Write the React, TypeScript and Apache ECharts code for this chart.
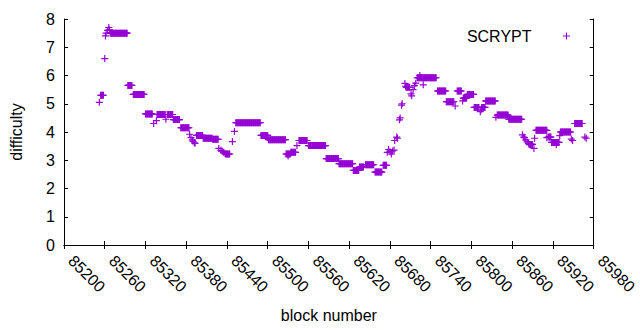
import React, { useEffect, useRef } from "react";
import * as echarts from "echarts";

// Runs of constant difficulty: one point per block from start to end
const runStart = [85254, 85268, 85294, 85302, 85320, 85337, 85352, 85361, 85372, 85395, 85405, 85419, 85438, 85453, 85490, 85501, 85527, 85534, 85546, 85560, 85586, 85605, 85626, 85635, 85644, 85658, 85670, 85704, 85720, 85750, 85763, 85779, 85788, 85794, 85804, 85815, 85821, 85838, 85855, 85885, 85895, 85913, 85918, 85931, 85952];
const runEnd = [85258, 85293, 85300, 85318, 85330, 85349, 85360, 85370, 85384, 85404, 85418, 85427, 85444, 85489, 85500, 85526, 85533, 85541, 85558, 85585, 85604, 85625, 85634, 85641, 85656, 85668, 85675, 85709, 85748, 85762, 85774, 85785, 85793, 85803, 85811, 85820, 85835, 85854, 85874, 85890, 85911, 85917, 85929, 85946, 85963];
const runValue = [5.3, 7.5, 5.65, 5.33, 4.64, 4.62, 4.62, 4.44, 4.15, 3.88, 3.78, 3.74, 3.22, 4.33, 3.88, 3.73, 3.22, 3.28, 3.7, 3.52, 3.06, 2.88, 2.64, 2.76, 2.84, 2.58, 2.82, 5.58, 5.92, 5.45, 5.07, 5.45, 5.2, 5.33, 4.87, 4.87, 5.1, 4.6, 4.45, 3.56, 4.06, 3.82, 3.63, 4.0, 4.3];

// Isolated blocks
const singleBlock = [85252, 85260, 85261, 85262, 85264, 85266, 85267, 85332, 85336, 85350, 85385, 85387, 85389, 85390, 85392, 85393, 85428, 85431, 85433, 85435, 85437, 85448, 85451, 85530, 85543, 85676, 85678, 85680, 85682, 85684, 85686, 85687, 85690, 85691, 85694, 85695, 85697, 85698, 85702, 85703, 85711, 85712, 85714, 85716, 85718, 85724, 85729, 85776, 85787, 85813, 85814, 85836, 85875, 85877, 85878, 85880, 85882, 85884, 85892, 85893, 85911, 85925, 85930, 85947, 85949, 85967, 85969];
const singleValue = [5.05, 6.6, 7.4, 7.5, 7.6, 7.7, 7.62, 4.3, 4.4, 4.45, 3.92, 3.8, 3.72, 3.67, 3.62, 3.6, 3.42, 3.35, 3.32, 3.28, 3.25, 3.66, 4.02, 3.15, 3.52, 3.28, 3.38, 3.3, 3.22, 3.33, 3.36, 3.7, 3.82, 3.78, 4.43, 4.5, 4.95, 5.0, 5.72, 5.62, 5.35, 5.28, 5.5, 5.64, 5.73, 6.0, 5.67, 4.92, 5.1, 4.72, 4.78, 4.52, 3.9, 3.82, 3.8, 3.72, 3.65, 3.6, 3.42, 3.78, 3.8, 3.55, 3.87, 3.75, 3.7, 3.82, 3.78];

const seriesName = "SCRYPT";
const xName = "block number";
const yName = "difficulty";

const CROSS = "path://M3,0L4.2,0L4.2,3L7.2,3L7.2,4.2L4.2,4.2L4.2,7.2L3,7.2L3,4.2L0,4.2L0,3L3,3Z";
const COLOR = "#9400d3";
const FONT = "'Liberation Sans', Arial, sans-serif";

export default function App() {
  const ref = useRef<HTMLDivElement>(null);
  useEffect(() => {
    if (!ref.current) return;
    document.body.style.margin = "0";
    const chart = echarts.init(ref.current, undefined, { renderer: "svg" });
    const points: number[][] = [];
    runStart.forEach((s, i) => {
      for (let b = s; b <= runEnd[i]; b++) points.push([b, runValue[i]]);
    });
    singleBlock.forEach((b, i) => points.push([b, singleValue[i]]));
    points.sort((a, b) => a[0] - b[0]);

    const axisLine = { show: true, lineStyle: { color: "#000", width: 1 } };
    const tick = { show: true, inside: true, length: 4, lineStyle: { color: "#000" } };
    const fs = 16;
    chart.setOption({
      animation: false,
      textStyle: { fontFamily: FONT },
      grid: { left: 64, right: 30, top: 19, bottom: 85 },
      legend: {
        data: [{ name: seriesName, icon: CROSS }],
        right: 65,
        top: 23,
        align: "right",
        itemWidth: 60,
        itemHeight: 7,
        itemGap: 0,
        itemStyle: { opacity: 1 },
        textStyle: { fontSize: fs, color: "#000", fontFamily: FONT },
      },
      xAxis: [
        {
          type: "value",
          min: 85200,
          max: 85980,
          interval: 60,
          name: xName,
          nameLocation: "middle",
          nameGap: 62,
          nameTextStyle: { fontSize: fs, color: "#000", fontFamily: FONT },
          axisLine,
          axisTick: tick,
          splitLine: { show: false },
          axisLabel: {
            rotate: -45,
            fontSize: fs,
            color: "#000",
            margin: 6,
            padding: [0, 0, 0, 10],
            fontFamily: FONT,
            formatter: (v: number) => String(v),
          },
        },
        {
          type: "value",
          position: "top",
          min: 85200,
          max: 85980,
          interval: 60,
          axisLine,
          axisTick: tick,
          splitLine: { show: false },
          axisLabel: { show: false },
        },
      ],
      yAxis: [
        {
          type: "value",
          min: 0,
          max: 8,
          interval: 1,
          name: yName,
          nameLocation: "middle",
          nameGap: 40,
          nameTextStyle: { fontSize: fs, color: "#000", fontFamily: FONT },
          axisLine,
          axisTick: tick,
          splitLine: { show: false },
          axisLabel: { fontSize: fs, color: "#000", margin: 9, fontFamily: FONT },
        },
        {
          type: "value",
          position: "right",
          min: 0,
          max: 8,
          interval: 1,
          axisLine,
          axisTick: tick,
          splitLine: { show: false },
          axisLabel: { show: false },
        },
      ],
      series: [
        {
          name: seriesName,
          type: "scatter",
          symbol: CROSS,
          symbolSize: 7,
          itemStyle: { color: COLOR, opacity: 1 },
          data: points,
        },
      ],
    });
    return () => chart.dispose();
  }, []);
  return <div ref={ref} style={{ width: 640, height: 330 }} />;
}
